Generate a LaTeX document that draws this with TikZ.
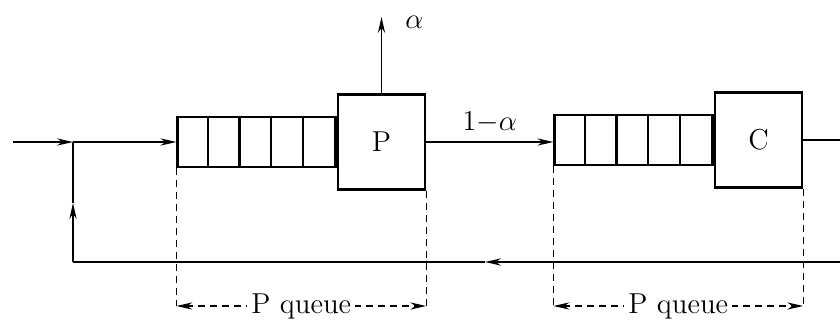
\documentclass[tikz,border=0pt]{standalone}
\usepackage{amsmath,amssymb}
\usetikzlibrary{arrows.meta}

\begin{document}
\begin{tikzpicture}[x=0.5pt,y=-0.5pt,>={Stealth[length=8pt,width=3.6pt]},font=\Large,
  line width=0.75pt,
  queuebox/.style={draw,line width=1.2pt,inner sep=0pt,minimum width=79pt,minimum height=25pt},
  server/.style={draw,line width=1.2pt,inner sep=0pt,minimum width=43.5pt,minimum height=47.5pt},
  dimline/.style={dashed,dash pattern=on 3.5pt off 2.5pt,line width=0.65pt}]
\useasboundingbox (0,0) rectangle (840,320);
% servers and their queues
\node[server] (pbox) at (381.5,142) {P};
\node[queuebox,anchor=east] (pq) at (pbox.west) {};
\node[server] (cbox) at (758.5,140) {C};
\node[queuebox,anchor=east] (cq) at (cbox.west) {};
\foreach \i in {1,...,4} {
  \draw[line width=1.2pt] ([xshift=\i*15.8pt]pq.north west)--([xshift=\i*15.8pt]pq.south west);
  \draw[line width=1.2pt] ([xshift=\i*15.8pt]cq.north west)--([xshift=\i*15.8pt]cq.south west);
}
% flows
\coordinate (in) at (13,142);
\coordinate (j) at (73,142);
\coordinate (up) at (383,17);
\coordinate (cout) at (840,140);
\coordinate (fbr) at (840,262);
\coordinate (fbm) at (485,262);
\coordinate (fbc) at (73,262);
\coordinate (fbu) at (73,203);
\draw[->] (in)--(j);
\draw[->] (j)--(pq.west);
\draw[->] (pbox.north)--(pbox.north |- up);
\node[anchor=west] (alpha) at (398,22) {$\alpha$};
\draw[->] (pbox.east)--(pbox.east -| cq.west) node[midway,above=1pt] (frac) {$1{-}\alpha$};
\draw (cbox.east)--(cout);
\draw[->] (fbr)--(fbm);
\draw (fbm)--(fbc);
\draw[->] (fbc)--(fbu);
\draw (fbu)--(j);
% queue extents
\coordinate (base) at (0,306);
\draw[dimline] (pq.south west)--(pq.south west |- base);
\draw[dimline] (pbox.south east)--(pbox.south east |- base);
\draw[dimline] (cq.south west)--(cq.south west |- base);
\draw[dimline] (cbox.south east)--(cbox.south east |- base);
\draw[dimline,<->] (pq.south west |- base)--(pbox.south east |- base)
  node[midway,fill=white,inner sep=2pt] (plen) {P queue};
\draw[dimline,<->] (cq.south west |- base)--(cbox.south east |- base)
  node[midway,fill=white,inner sep=2pt] (clen) {P queue};
\end{tikzpicture}
\end{document}
